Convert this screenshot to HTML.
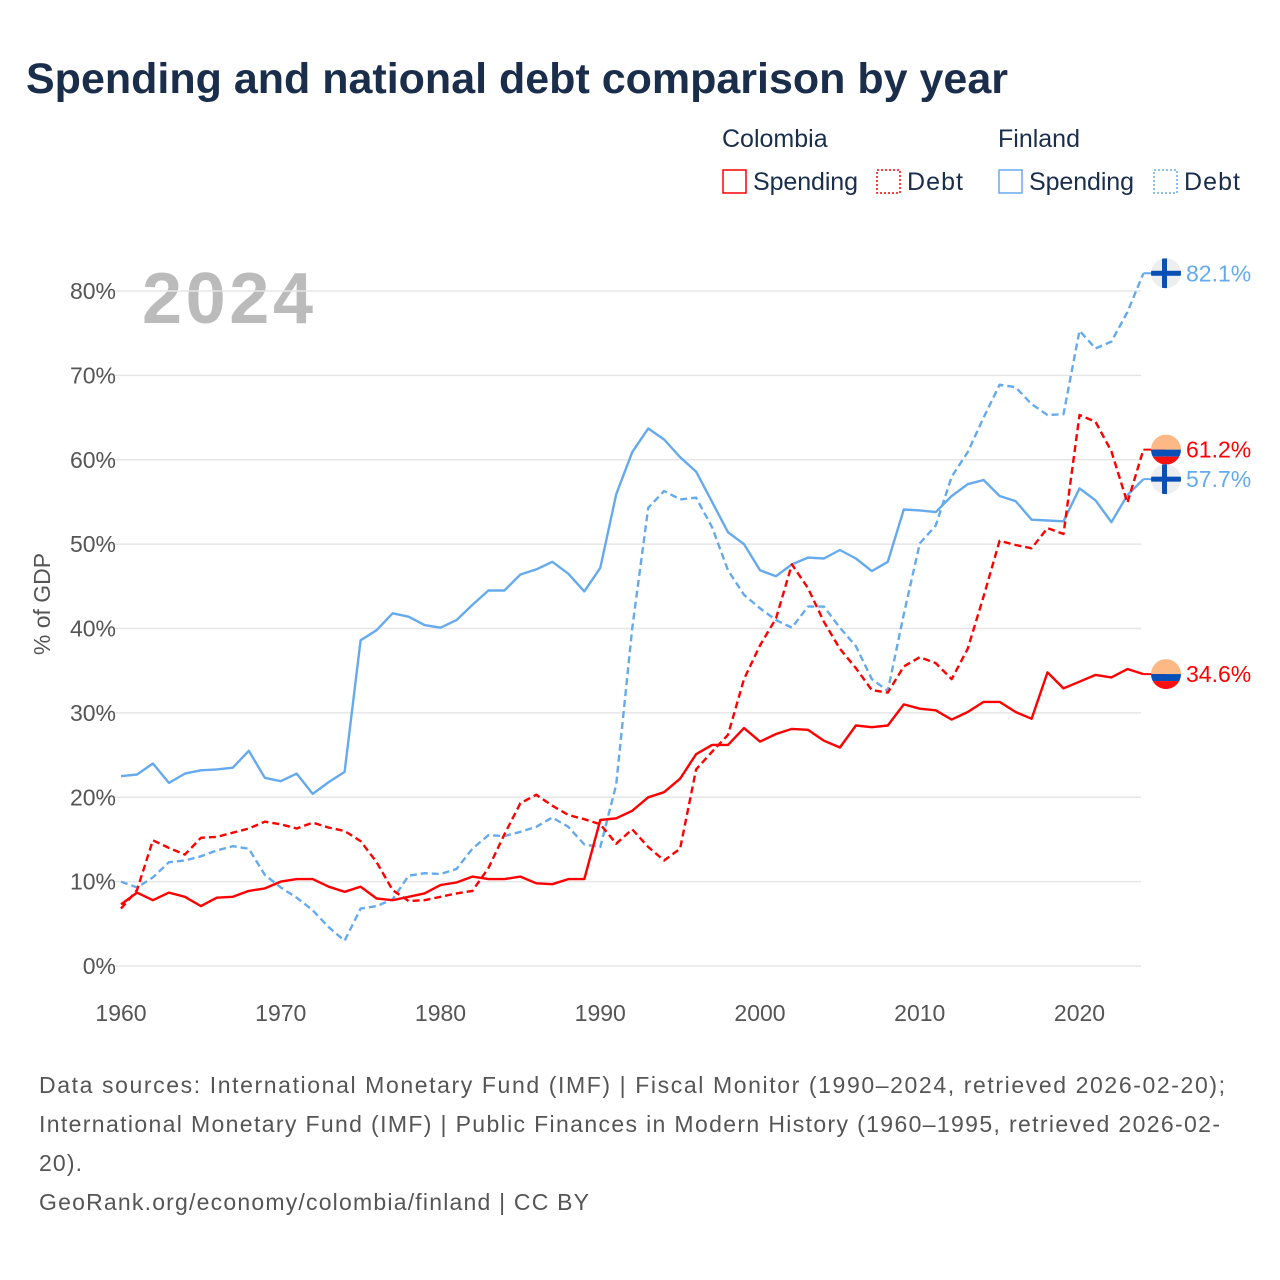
<!DOCTYPE html>
<html><head><meta charset="utf-8">
<style>
body{margin:0;width:1280px;height:1280px;background:#fff;font-family:"Liberation Sans",sans-serif;overflow:hidden}
svg{display:block}
</style></head>
<body>
<svg width="1280" height="1280">
<defs id="defs"></defs>
<text x="26" y="93" font-size="43" font-weight="bold" fill="#1a2e4c">Spending and national debt comparison by year</text>
<g font-size="25" fill="#1a2e4c">
<text x="722" y="147">Colombia</text>
<text x="998" y="147">Finland</text>
<g><rect x="723" y="170" width="23" height="23" fill="none" stroke="#ff0000" stroke-width="1.5"/><text x="753" y="190" textLength="105">Spending</text></g>
<g><rect x="877" y="170" width="23" height="23" fill="none" stroke="#ff0000" stroke-width="1.5" stroke-dasharray="2,2"/><text x="907" y="190" textLength="56">Debt</text></g>
<g><rect x="999" y="170" width="23" height="23" fill="none" stroke="#66aaee" stroke-width="1.5"/><text x="1029" y="190" textLength="105">Spending</text></g>
<g><rect x="1154" y="170" width="23" height="23" fill="none" stroke="#66aaee" stroke-width="1.5" stroke-dasharray="2,2"/><text x="1184" y="190" textLength="56">Debt</text></g>
</g>
<text x="142" y="323" font-size="72" font-weight="bold" fill="#bbbbbb" textLength="171">2024</text>
<g id="grid"></g>
<g id="series"></g>
<g id="ends"></g>
<text transform="translate(50,604) rotate(-90)" text-anchor="middle" font-size="23" fill="#555">% of GDP</text>
<g font-size="23" fill="#555">
<text x="39" y="1093" textLength="1186">Data sources: International Monetary Fund (IMF) | Fiscal Monitor (1990–2024, retrieved 2026-02-20);</text>
<text x="39" y="1132" textLength="1181">International Monetary Fund (IMF) | Public Finances in Modern History (1960–1995, retrieved 2026-02-</text>
<text x="39" y="1171" textLength="43">20).</text>
<text x="39" y="1210" textLength="550">GeoRank.org/economy/colombia/finland | CC BY</text>
</g>
</svg>
<script>
const years=[];for(let y=1960;y<=2024;y++)years.push(y);
const yTicks=[0,10,20,30,40,50,60,70,80];
const xTicks=[1960,1970,1980,1990,2000,2010,2020];
const colSpending=[7.3,8.7,7.8,8.7,8.2,7.1,8.1,8.2,8.9,9.2,10.0,10.3,10.3,9.4,8.8,9.4,8.0,7.8,8.2,8.6,9.6,9.9,10.6,10.3,10.3,10.6,9.8,9.7,10.3,10.3,17.3,17.5,18.4,20.0,20.6,22.2,25.1,26.2,26.2,28.2,26.6,27.5,28.1,28.0,26.7,25.9,28.5,28.3,28.5,31.0,30.5,30.3,29.2,30.1,31.3,31.3,30.1,29.3,34.8,32.9,33.7,34.5,34.2,35.2,34.6];
const colDebt=[6.8,9.0,14.9,14.0,13.2,15.2,15.3,15.8,16.3,17.1,16.8,16.3,17.0,16.4,16.0,14.8,12.3,9.0,7.7,7.8,8.2,8.6,8.9,11.6,15.6,19.3,20.3,19.0,17.9,17.4,16.8,14.5,16.2,14.1,12.5,13.9,23.3,25.4,27.4,34.0,38.0,41.2,47.6,44.8,40.8,37.6,35.3,32.7,32.4,35.5,36.6,35.9,34.0,37.6,43.8,50.4,49.9,49.5,51.9,51.2,65.3,64.5,61.0,54.9,61.2];
const finSpending=[22.5,22.7,24.0,21.7,22.8,23.2,23.3,23.5,25.5,22.3,21.9,22.8,20.4,21.8,23.0,38.6,39.8,41.8,41.4,40.4,40.1,41.0,42.8,44.5,44.5,46.4,47.0,47.9,46.5,44.4,47.2,55.9,60.9,63.7,62.4,60.3,58.6,55.0,51.4,50.0,46.9,46.2,47.6,48.4,48.3,49.3,48.3,46.8,47.9,54.1,54.0,53.8,55.7,57.1,57.6,55.7,55.1,52.9,52.8,52.7,56.6,55.2,52.6,55.8,57.7];
const finDebt=[10.0,9.3,10.5,12.3,12.5,13.0,13.7,14.2,13.9,10.8,9.3,8.1,6.6,4.6,3.0,6.8,7.1,7.9,10.7,11.0,10.9,11.5,13.9,15.5,15.4,15.9,16.5,17.6,16.5,14.4,14.1,21.5,40.0,54.3,56.3,55.3,55.5,52.0,46.9,44.0,42.4,41.0,40.1,42.6,42.6,40.1,37.9,34.0,32.6,41.7,50.1,52.2,58.0,60.9,65.0,68.9,68.6,66.6,65.3,65.4,75.3,73.2,74.0,77.5,82.1];
const NS='http://www.w3.org/2000/svg';
const X=y=>121+(y-1960)*15.975;
const Y=v=>966-v*8.4375;
function mk(t,a,p){const e=document.createElementNS(NS,t);for(const k in a)e.setAttribute(k,a[k]);p.appendChild(e);return e;}
const grid=document.getElementById('grid');
yTicks.forEach(v=>{
  const l=mk('line',{x1:100,x2:1141,y1:Y(v),y2:Y(v),stroke:'#e6e6e6','stroke-width':1.5},grid);
  
  
  const t=mk('text',{x:116,y:Y(v)+8,'text-anchor':'end','font-size':23,fill:'#555'},grid);
  t.textContent=v+'%';
  
  
});
xTicks.forEach(v=>{
  const t=mk('text',{x:X(v),y:1021,'text-anchor':'middle','font-size':23,fill:'#555'},grid);
  t.textContent=v;
  
  
});
const ser=document.getElementById('series');
function line(arr,color,dash,name){
  const d=arr.map((v,i)=>(i?'L':'M')+X(years[i]).toFixed(1)+','+Y(v).toFixed(1)).join('');
  const p=mk('path',{d:d,fill:'none',stroke:color,'stroke-width':2.4,'stroke-linejoin':'round'},ser);
  if(dash)p.setAttribute('stroke-dasharray','7,4');
  
  
}
line(finSpending,'#66aaee',false,'finland-spending-line');
line(finDebt,'#66aaee',true,'finland-debt-line');
line(colSpending,'#ff0000',false,'colombia-spending-line');
line(colDebt,'#ff0000',true,'colombia-debt-line');
const ends=document.getElementById('ends');
const defs=document.getElementById('defs');
let cid=0;
function endLabel(arr,color,flag,name){
  const v=arr[arr.length-1],y=Y(v),cx=1166;
  mk('line',{x1:X(2024),x2:cx,y1:y,y2:y,stroke:color,'stroke-width':2},ends);
  const id='clip'+(cid++);
  const cp=mk('clipPath',{id:id},defs);
  mk('circle',{cx:cx,cy:y,r:15},cp);
  const g=mk('g',{'clip-path':'url(#'+id+')'},ends);
  
  
  if(flag==='co'){
    mk('rect',{x:cx-15,y:y-15,width:30,height:15,fill:'#fdb985'},g);
    mk('rect',{x:cx-15,y:y,width:30,height:7,fill:'#0a4fb5'},g);
    mk('rect',{x:cx-15,y:y+7,width:30,height:8,fill:'#ff1010'},g);
  }else{
    mk('rect',{x:cx-15,y:y-15,width:30,height:30,fill:'#eeeeee'},g);
    mk('rect',{x:cx-15,y:y-2.5,width:30,height:5,fill:'#0a4fb5'},g);
    mk('rect',{x:cx-4,y:y-15,width:5,height:30,fill:'#0a4fb5'},g);
  }
  const t=mk('text',{x:1186,y:y+8,'font-size':23,fill:color},ends);
  t.textContent=v.toFixed(1)+'%';
  
  
}
endLabel(finDebt,'#66aaee','fi','finland-debt');
endLabel(colDebt,'#ff0000','co','colombia-debt');
endLabel(finSpending,'#66aaee','fi','finland-spending');
endLabel(colSpending,'#ff0000','co','colombia-spending');
</script>
</body></html>
